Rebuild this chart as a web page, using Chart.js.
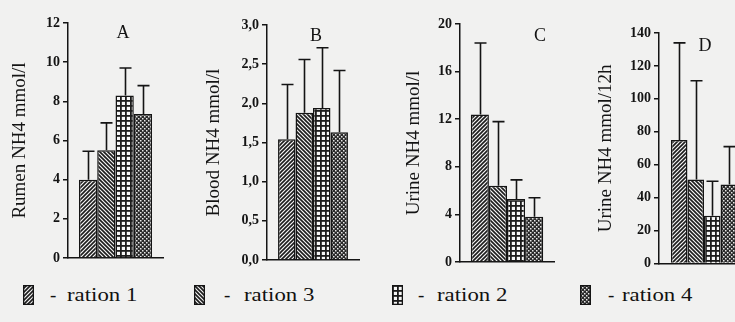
<!DOCTYPE html>
<html>
<head>
<meta charset="utf-8">
<script src="https://cdn.jsdelivr.net/npm/chart.js@4/dist/chart.umd.min.js"></script>
<style>
  html, body { margin: 0; padding: 0; }
  body { width: 735px; height: 322px; overflow: hidden; position: relative; background: #f1f1f0; }
  .panel { position: absolute; top: 0; }
  .legend-item { position: absolute; top: 283px; height: 26px; font-family: "Liberation Serif", serif; font-size: 19px; color: #111; }
  .legend-item canvas { position: absolute; top: 2px; left: 0; }
  .legend-item .dash { position: absolute; top: 1px; }
  .legend-item .txt { position: absolute; top: 1px; transform: scaleX(1.2); transform-origin: left center; white-space: nowrap; }
</style>
</head>
<body>
<canvas id="pA" class="panel" width="185" height="275" style="left:0px"></canvas>
<canvas id="pB" class="panel" width="185" height="275" style="left:185px"></canvas>
<canvas id="pC" class="panel" width="185" height="275" style="left:370px"></canvas>
<canvas id="pD" class="panel" width="200" height="275" style="left:555px"></canvas>
<div id="legend"></div>
<script>
// Treatment groups, in the order the bars are drawn in every panel
const groups = ['ration 1', 'ration 3', 'ration 2', 'ration 4'];

// Means and upper ends of the error bars (mean + SD)
const rumenMean   = [4.0, 5.5, 8.3, 7.35];
const rumenUpper  = [5.45, 6.9, 9.7, 8.8];

const bloodMean   = [1.54, 1.88, 1.94, 1.63];
const bloodUpper  = [2.24, 2.56, 2.71, 2.42];

const urineMean   = [12.4, 6.4, 5.3, 3.8];
const urineUpper  = [18.4, 11.8, 6.9, 5.4];

const urine12Mean  = [75, 51, 29, 48];
const urine12Upper = [134, 111, 50, 71];

// Y-axis tick settings per panel
const rumenTicks   = { max: 12,  step: 2 };
const bloodTicks   = { max: 3,   step: 0.5 };
const urineTicks   = { max: 20,  step: 4 };
const urine12Ticks = { max: 140, step: 20 };

const INK = '#141414';

// Monochrome fill patterns for the four rations
function makePattern(kind) {
  const c = document.createElement('canvas');
  const g = c.getContext('2d');
  if (kind === 'fwd' || kind === 'back') {
    const s = 4;
    c.width = c.height = s;
    g.fillStyle = '#f4f4f4'; g.fillRect(0, 0, s, s);
    g.strokeStyle = '#1c1c1c'; g.lineWidth = 1.6;
    g.beginPath();
    for (let k = -1; k <= 1; k++) {
      if (kind === 'fwd') { g.moveTo(k * s - 1, s + 1); g.lineTo(k * s + s + 1, -1); }
      else { g.moveTo(k * s - 1, -1); g.lineTo(k * s + s + 1, s + 1); }
    }
    g.stroke();
  } else if (kind === 'grid') {
    const s = 5;
    c.width = c.height = s;
    g.fillStyle = '#f6f6f6'; g.fillRect(0, 0, s, s);
    g.fillStyle = '#1c1c1c';
    g.fillRect(0, 0, s, 1.8);
    g.fillRect(0, 0, 1.8, s);
  } else {
    const s = 4;
    c.width = c.height = s;
    g.fillStyle = '#2a2a2a'; g.fillRect(0, 0, s, s);
    g.fillStyle = '#e8e8e8';
    g.fillRect(0, 0, 1.5, 1.5);
    g.fillRect(2, 2, 1.5, 1.5);
  }
  return c;
}
const patternKinds = ['fwd', 'back', 'grid', 'dots'];
const tiles = patternKinds.map(makePattern);

// Error bars: vertical whisker from the bar top up to the upper value, with a cap
const errorBarPlugin = {
  id: 'errorBars',
  afterDatasetsDraw(chart) {
    const ctx = chart.ctx;
    const yScale = chart.scales.y;
    ctx.save();
    ctx.strokeStyle = INK;
    ctx.lineWidth = 1.6;
    chart.data.datasets.forEach((ds, i) => {
      const meta = chart.getDatasetMeta(i);
      meta.data.forEach((bar, j) => {
        const yTop = yScale.getPixelForValue(ds.errUpper[j]);
        const x = Math.round(bar.x) + 0.5;
        ctx.beginPath();
        ctx.moveTo(x, bar.y);
        ctx.lineTo(x, yTop);
        ctx.moveTo(x - 6, yTop);
        ctx.lineTo(x + 6, yTop);
        ctx.stroke();
      });
    });
    ctx.restore();
  }
};

// Panel letter (A, B, C, D)
const panelLetterPlugin = {
  id: 'panelLetter',
  afterDraw(chart, args, opts) {
    const ctx = chart.ctx;
    ctx.save();
    ctx.fillStyle = INK;
    ctx.font = '18px "Liberation Serif"';
    ctx.textAlign = 'center';
    ctx.textBaseline = 'middle';
    ctx.fillText(opts.text, chart.chartArea.left + opts.dx, opts.y);
    ctx.restore();
  }
};

function buildPanel(id, cfg) {
  const ctx = document.getElementById(id).getContext('2d');
  return new Chart(ctx, {
    type: 'bar',
    data: {
      labels: [''],
      datasets: groups.map((g, i) => ({
        label: g,
        data: [cfg.mean[i]],
        errUpper: [cfg.upper[i]],
        backgroundColor: ctx.createPattern(tiles[i], 'repeat'),
        borderColor: INK,
        borderWidth: 1.5
      }))
    },
    plugins: [errorBarPlugin, panelLetterPlugin],
    options: {
      responsive: false,
      animation: false,
      events: [],
      layout: { padding: { top: cfg.top, bottom: cfg.bottom, left: 0, right: cfg.right } },
      datasets: { bar: { categoryPercentage: cfg.cp, barPercentage: 1 } },
      plugins: {
        legend: { display: false },
        tooltip: { enabled: false },
        panelLetter: { text: cfg.letter, dx: cfg.letterDx, y: cfg.letterY }
      },
      scales: {
        x: {
          grid: { display: false },
          ticks: { display: false },
          border: { display: true, color: INK, width: 1.5 },
          afterFit(s) { s.height = 0; }
        },
        y: {
          min: 0,
          max: cfg.ticks.max,
          ticks: {
            stepSize: cfg.ticks.step,
            color: INK,
            padding: 3,
            font: { family: 'Liberation Serif', size: 14, weight: 'bold' },
            callback: cfg.fmt
          },
          grid: { drawOnChartArea: false, drawTicks: true, tickLength: 5, color: INK, lineWidth: 1.5 },
          border: { display: true, color: INK, width: 1.5 },
          title: {
            display: true,
            text: cfg.title,
            color: INK,
            font: { family: 'Liberation Serif', size: 19 },
            padding: { top: cfg.titlePad, bottom: 0 }
          },
          afterFit(s) { s.width = cfg.axisW; }
        }
      }
    }
  });
}

const intFmt = v => String(v);
const commaFmt = v => v.toFixed(1).replace('.', ',');

buildPanel('pA', { mean: rumenMean, upper: rumenUpper, ticks: rumenTicks, fmt: intFmt,
  title: 'Rumen NH4 mmol/l', letter: 'A', letterDx: 55, letterY: 33,
  axisW: 68, top: 23, bottom: 17, right: 22, cp: 0.77, titlePad: 9 });

buildPanel('pB', { mean: bloodMean, upper: bloodUpper, ticks: bloodTicks, fmt: commaFmt,
  title: 'Blood NH4 mmol/l', letter: 'B', letterDx: 49, letterY: 36,
  axisW: 82, top: 25, bottom: 15, right: 11, cp: 0.76, titlePad: 18 });

buildPanel('pC', { mean: urineMean, upper: urineUpper, ticks: urineTicks, fmt: intFmt,
  title: 'Urine NH4 mmol/l', letter: 'C', letterDx: 80, letterY: 36,
  axisW: 90, top: 24, bottom: 13, right: 1, cp: 0.77, titlePad: 33 });

buildPanel('pD', { mean: urine12Mean, upper: urine12Upper, ticks: urine12Ticks, fmt: intFmt,
  title: 'Urine NH4 mmol/12h', letter: 'D', letterDx: 46, letterY: 46,
  axisW: 104, top: 33, bottom: 10, right: 6, cp: 0.735, titlePad: 40 });

// Legend row below the panels
const legendX = [{ sw: 23, dash: 50, txt: 67 }, { sw: 194, dash: 224, txt: 244 },
                 { sw: 392, dash: 418, txt: 437 }, { sw: 580, dash: 608, txt: 622 }];
const legendEl = document.getElementById('legend');
groups.forEach((g, i) => {
  const item = document.createElement('div');
  item.className = 'legend-item';
  item.style.left = '0px';
  const sw = document.createElement('canvas');
  sw.width = 11; sw.height = 20;
  sw.style.left = legendX[i].sw + 'px';
  const sctx = sw.getContext('2d');
  sctx.fillStyle = sctx.createPattern(tiles[i], 'repeat');
  sctx.fillRect(0, 0, 11, 20);
  sctx.strokeStyle = INK; sctx.lineWidth = 1.3;
  sctx.strokeRect(0.65, 0.65, 9.7, 18.7);
  const dash = document.createElement('span');
  dash.className = 'dash';
  dash.style.left = legendX[i].dash + 'px';
  dash.textContent = '-';
  const txt = document.createElement('span');
  txt.className = 'txt';
  txt.style.left = legendX[i].txt + 'px';
  txt.textContent = g;
  item.appendChild(sw); item.appendChild(dash); item.appendChild(txt);
  legendEl.appendChild(item);
});
</script>
</body>
</html>
